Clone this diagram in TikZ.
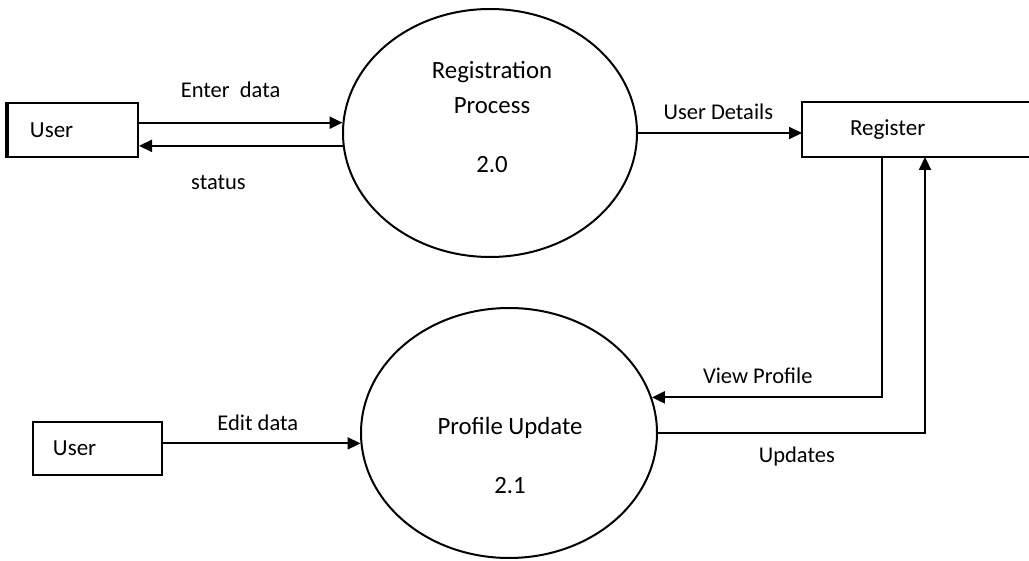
\documentclass[tikz,border=0pt]{standalone}
\usepackage{fontspec}
\setmainfont{Carlito}
\usetikzlibrary{shapes.geometric,arrows.meta}

\begin{document}
\begin{tikzpicture}[x=0.5pt,y=-0.5pt,>={Triangle[length=6.5pt,width=6pt]},
  every node/.style={font=\fontsize{11.25}{13.5}\selectfont},
  entity/.style={draw,line width=1pt,rectangle,inner ysep=0pt,align=left,minimum height=27pt,font=\fontsize{11.5}{13.5}\selectfont},
  process/.style={draw,line width=1pt,ellipse,inner sep=0pt},
  proclabel/.style={align=center,font=\fontsize{12.4}{17.5}\selectfont},
  flow/.style={->,line width=1.1pt},
  flowlabel/.style={font=\fontsize{11.25}{13.5}\selectfont}]
  \useasboundingbox (0,0) rectangle (1029,561);

  % processes
  \node[process,minimum width=147pt,minimum height=124pt] (reg) at (490,133) {};
  \node[process,minimum width=148pt,minimum height=125pt] (prof) at (509,433) {};
  \node[proclabel] (regtitle) at (492,88) {Registration\\Process};
  \node[proclabel] (regnum) at (492,165) {2.0};
  \node[proclabel] (proftitle) at (510,428) {Profile Update};
  \node[proclabel] (profnum) at (510,486) {2.1};

  % entities
  \node[entity,inner xsep=11pt,text width=43pt] (user1) at (73,130) {User};
  \draw[line width=2pt] (user1.north west) -- (user1.south west);
  \node[entity,inner xsep=10pt,text width=44.5pt,minimum height=26.5pt] (user2) at (97.5,448.5) {User};
  \node[entity,draw=none,inner xsep=23.5pt,text width=66pt,minimum height=26.5pt] (register) at (916,129.5) {Register};
  \draw[line width=1pt] (register.north east) -- (register.north west) -- (register.south west) -- (register.south east);

  % data flows
  \draw[flow] (user1.east |- reg.176) -- node[flowlabel,pos=.45,yshift=16.5pt] {Enter~ data} (reg.176);
  \draw[flow] (reg.185) -- node[flowlabel,pos=.61,yshift=-18.5pt] {status} (user1.east |- reg.185);
  \draw[flow] (reg.east) -- node[flowlabel,pos=.49,yshift=10.5pt] {User Details} (reg.east -| register.west);
  \draw[flow] (user2.east |- prof.184) -- node[flowlabel,pos=.48,yshift=10.5pt] {Edit data} (prof.184);
  \draw[flow] ([xshift=-17pt]register.south) |- node[flowlabel,pos=.77,yshift=11pt] {View Profile} (prof.14);
  \draw[flow] (prof.east) -| node[flowlabel,pos=.26,yshift=-12pt] {Updates} ([xshift=4.5pt]register.south);
\end{tikzpicture}
\end{document}
